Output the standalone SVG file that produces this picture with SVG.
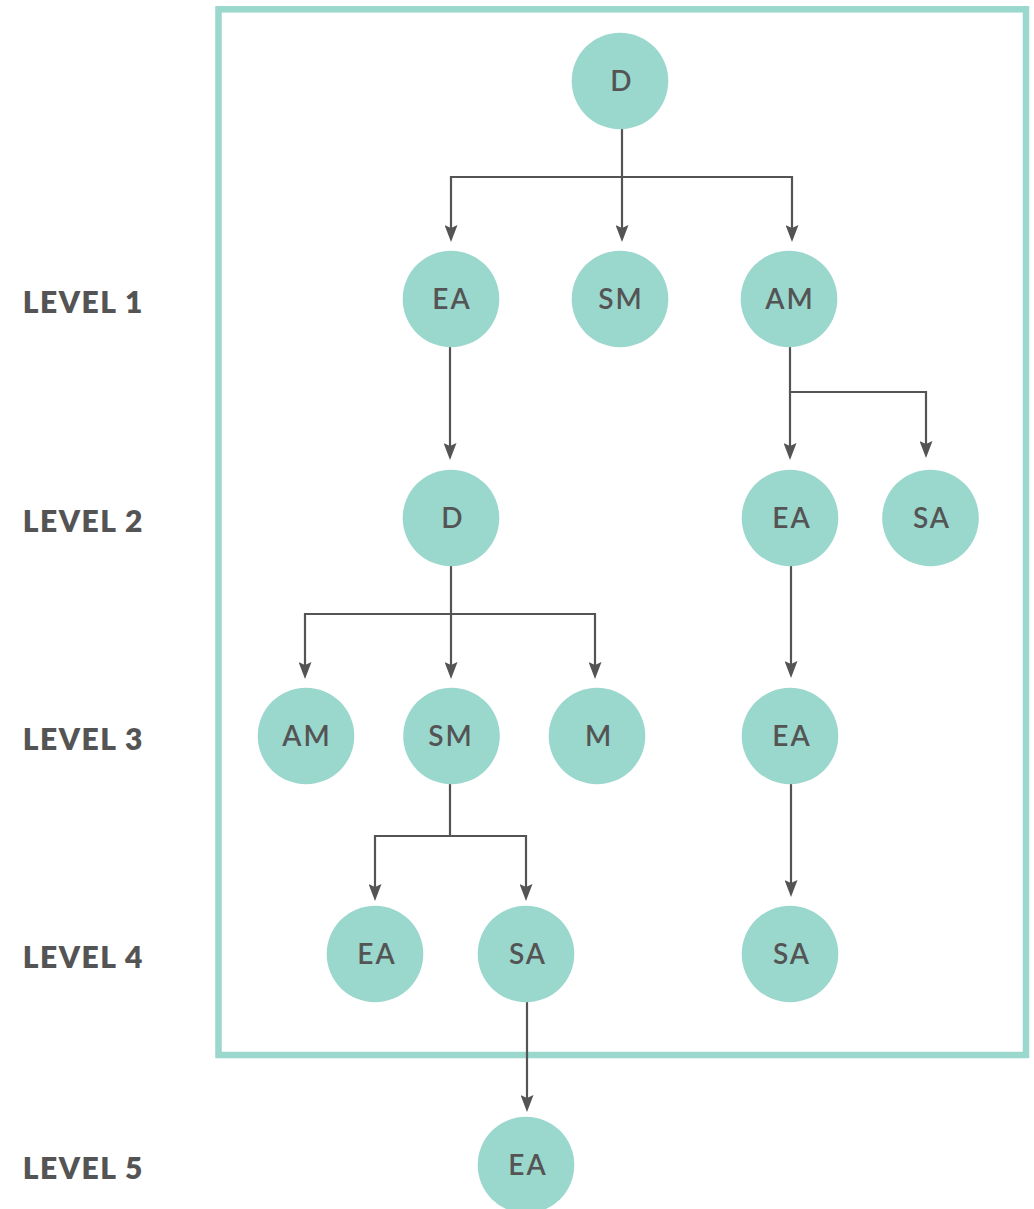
<svg xmlns="http://www.w3.org/2000/svg" width="1034" height="1209" viewBox="0 0 1034 1209">
  <style>
    .frame { fill: none; stroke: #9ad7cd; stroke-width: 6.5; }
    .node circle { fill: #9ad7cd; }
    .node text { font-family: Lato, "Liberation Sans", sans-serif; font-weight: 600; font-size: 28px; letter-spacing: 2px; fill: #545454; text-anchor: middle; }
    .level { font-family: Lato, "Liberation Sans", sans-serif; font-weight: 800; font-size: 30px; letter-spacing: 1.5px; fill: #545454; text-anchor: end; }
    .edges path { fill: none; stroke: #545454; stroke-width: 2.2; marker-end: url(#arrow); }
  </style>
  <defs>
    <marker id="arrow" viewBox="0 0 17 13" refX="9" refY="6.5" markerWidth="17" markerHeight="13" markerUnits="userSpaceOnUse" orient="auto">
      <path d="M0,0 L17,6.5 L0,13 L3,6.5 z" fill="#545454"/>
    </marker>
  </defs>

  <rect class="frame" x="218.5" y="9.3" width="807.5" height="1045.7"/>

  <!-- level labels -->
  <g id="levels">
    <text class="level" x="144" y="313">LEVEL 1</text>
    <text class="level" x="144" y="532">LEVEL 2</text>
    <text class="level" x="144" y="750">LEVEL 3</text>
    <text class="level" x="144" y="968">LEVEL 4</text>
    <text class="level" x="144" y="1179">LEVEL 5</text>
  </g>

  <!-- connectors -->
  <g id="edges" class="edges">
    <path d="M622,129 V234"/>
    <path d="M622,177 H451 V234"/>
    <path d="M622,177 H792 V234"/>
    <path d="M450,347 V452"/>
    <path d="M790,347 V452"/>
    <path d="M790,392 H926 V450"/>
    <path d="M451,566 V671"/>
    <path d="M451,614 H305 V671"/>
    <path d="M451,614 H595 V671"/>
    <path d="M791,566 V670"/>
    <path d="M450,784 V836 H375 V893"/>
    <path d="M450,836 H526 V893"/>
    <path d="M791,784 V889"/>
    <path d="M527,1002 V1104"/>
  </g>

  <!-- nodes -->
  <g id="n0" class="node"><circle cx="620" cy="81" r="48.3"/><text x="622" y="91">D</text></g>
  <g id="n1" class="node"><circle cx="451" cy="299" r="48.3"/><text x="452" y="309">EA</text></g>
  <g id="n2" class="node"><circle cx="620" cy="299" r="48.3"/><text x="621" y="309">SM</text></g>
  <g id="n3" class="node"><circle cx="789" cy="299" r="48.3"/><text x="790" y="309">AM</text></g>
  <g id="n4" class="node"><circle cx="451" cy="518" r="48.3"/><text x="453" y="528">D</text></g>
  <g id="n5" class="node"><circle cx="790" cy="518" r="48.3"/><text x="792" y="528">EA</text></g>
  <g id="n6" class="node"><circle cx="930.5" cy="518" r="48.3"/><text x="932" y="528">SA</text></g>
  <g id="n7" class="node"><circle cx="306" cy="736" r="48.3"/><text x="307" y="746">AM</text></g>
  <g id="n8" class="node"><circle cx="451.5" cy="736" r="48.3"/><text x="451" y="746">SM</text></g>
  <g id="n9" class="node"><circle cx="597" cy="736" r="48.3"/><text x="599" y="746">M</text></g>
  <g id="n10" class="node"><circle cx="790" cy="736" r="48.3"/><text x="792" y="746">EA</text></g>
  <g id="n11" class="node"><circle cx="375" cy="954" r="48.3"/><text x="377" y="964">EA</text></g>
  <g id="n12" class="node"><circle cx="526" cy="954" r="48.3"/><text x="528" y="964">SA</text></g>
  <g id="n13" class="node"><circle cx="790" cy="954" r="48.3"/><text x="792" y="964">SA</text></g>
  <g id="n14" class="node"><circle cx="526" cy="1165" r="48.3"/><text x="528" y="1175">EA</text></g>
</svg>
